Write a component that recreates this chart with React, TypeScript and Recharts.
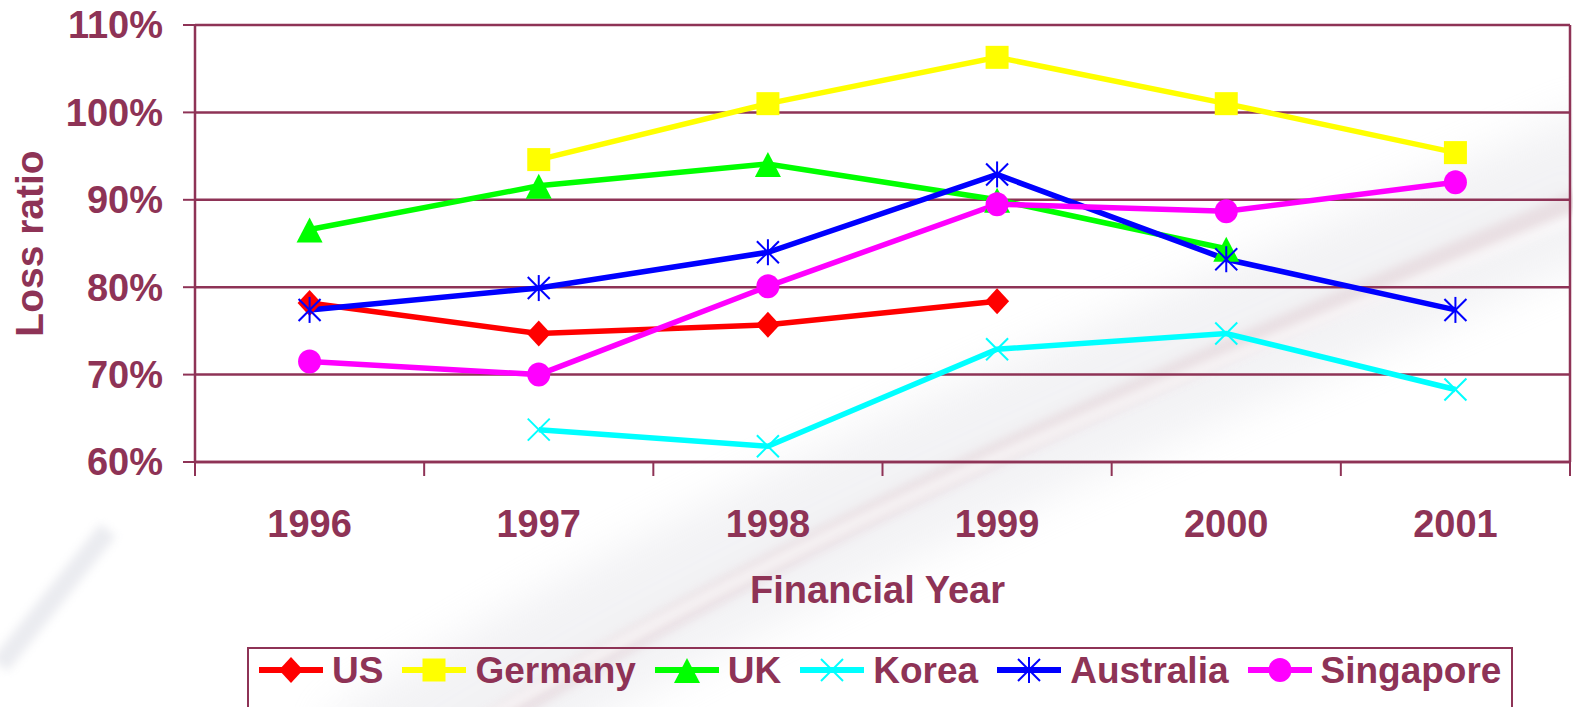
import React from 'react';
import { LineChart, Line, XAxis, YAxis, CartesianGrid } from 'recharts';

const years = ['1996', '1997', '1998', '1999', '2000', '2001'];
const us = [78.2, 74.7, 75.7, 78.4, null, null];
const germany = [null, 94.6, 101.0, 106.3, 101.0, 95.4];
const uk = [86.6, 91.6, 94.1, 90.0, 84.4, null];
const korea = [null, 63.7, 61.8, 72.9, 74.7, 68.3];
const australia = [77.4, 79.9, 84.0, 92.9, 83.2, 77.4];
const singapore = [71.5, 70.0, 80.1, 89.5, 88.7, 92.0];
const yTicks = [60, 70, 80, 90, 100, 110];

const MAROON = '#8e3356';
const FONT = '"Liberation Sans", Arial, sans-serif';
const FS = 38;

const series = [
  { key: 'US', color: '#ff0000', shape: 'diamond' },
  { key: 'Germany', color: '#ffff00', shape: 'square' },
  { key: 'UK', color: '#00ff00', shape: 'triangle' },
  { key: 'Korea', color: '#00ffff', shape: 'x' },
  { key: 'Australia', color: '#0000ff', shape: 'star' },
  { key: 'Singapore', color: '#ff00ff', shape: 'circle' },
];

const data = years.map((year, i) => ({
  year,
  US: us[i],
  Germany: germany[i],
  UK: uk[i],
  Korea: korea[i],
  Australia: australia[i],
  Singapore: singapore[i],
}));

const Marker = ({ cx, cy, shape, color }: any) => {
  switch (shape) {
    case 'diamond':
      return <polygon points={`${cx},${cy - 13} ${cx + 12},${cy} ${cx},${cy + 13} ${cx - 12},${cy}`} fill={color} />;
    case 'square':
      return <rect x={cx - 11.5} y={cy - 11.5} width={23} height={23} fill={color} />;
    case 'triangle':
      return <polygon points={`${cx},${cy - 12} ${cx + 13},${cy + 13} ${cx - 13},${cy + 13}`} fill={color} />;
    case 'x':
      return (
        <g stroke={color} strokeWidth={2}>
          <line x1={cx - 11} y1={cy - 11} x2={cx + 11} y2={cy + 11} />
          <line x1={cx - 11} y1={cy + 11} x2={cx + 11} y2={cy - 11} />
        </g>
      );
    case 'star':
      return (
        <g stroke={color} strokeWidth={2}>
          <line x1={cx - 11} y1={cy - 11} x2={cx + 11} y2={cy + 11} />
          <line x1={cx - 11} y1={cy + 11} x2={cx + 11} y2={cy - 11} />
          <line x1={cx} y1={cy - 13} x2={cx} y2={cy + 13} />
        </g>
      );
    default:
      return <ellipse cx={cx} cy={cy} rx={11.5} ry={12} fill={color} />;
  }
};

const YearTick = (props: any) => {
  const { x, y, payload, index, visibleTicksCount } = props;
  const half = payload && payload.offset > 0 ? payload.offset : 114.6;
  return (
    <g>
      <line x1={x - half} x2={x - half} y1={y} y2={y + 14} stroke={MAROON} strokeWidth={2} />
      {index === visibleTicksCount - 1 && (
        <line x1={x + half} x2={x + half} y1={y} y2={y + 14} stroke={MAROON} strokeWidth={2} />
      )}
      <text x={x} y={y + 75} textAnchor="middle" fill={MAROON} fontSize={FS} fontWeight="bold" fontFamily={FONT}>
        {payload.value}
      </text>
    </g>
  );
};

// faint decorative streaks behind the chart
const Background = () => (
  <svg width={1573} height={707} style={{ position: 'absolute', left: 0, top: 0 }}>
    <defs>
      <filter id="blurWide" x="-20%" y="-20%" width="140%" height="140%">
        <feGaussianBlur stdDeviation={22} />
      </filter>
      <filter id="blurThin" x="-20%" y="-20%" width="140%" height="140%">
        <feGaussianBlur stdDeviation={5} />
      </filter>
    </defs>
    <path d="M 360 780 C 700 560, 1050 420, 1620 170" stroke="#dcdce2" strokeWidth={140} fill="none" opacity={0.35} filter="url(#blurWide)" />
    <path d="M 430 760 C 760 550, 1080 410, 1620 185" stroke="#d4b4bc" strokeWidth={24} fill="none" opacity={0.3} filter="url(#blurThin)" />
    <path d="M 400 770 C 740 560, 1060 420, 1620 200" stroke="#ffffff" strokeWidth={10} fill="none" opacity={0.7} filter="url(#blurThin)" />
    <path d="M 0 665 L 108 530" stroke="#d2d4de" strokeWidth={20} fill="none" opacity={0.45} filter="url(#blurThin)" />
  </svg>
);

const LegendBox = () => (
  <div
    style={{
      position: 'absolute',
      left: 247,
      top: 647,
      width: 1266,
      height: 80,
      border: `2px solid ${MAROON}`,
      boxSizing: 'border-box',
      display: 'flex',
      alignItems: 'center',
      paddingLeft: 10,
      paddingBottom: 34,
      fontFamily: FONT,
    }}
  >
    {series.map((s) => (
      <div key={s.key} style={{ display: 'flex', alignItems: 'center', marginRight: 19 }}>
        <svg width={64} height={32}>
          <line x1={0} x2={64} y1={16} y2={16} stroke={s.color} strokeWidth={6} />
          <Marker cx={32} cy={16} shape={s.shape} color={s.color} />
        </svg>
        <span style={{ fontSize: 37, fontWeight: 'bold', color: MAROON, marginLeft: 9, lineHeight: '37px' }}>
          {s.key}
        </span>
      </div>
    ))}
  </div>
);

export default function App() {
  return (
    <div style={{ position: 'relative', width: 1573, height: 707, overflow: 'hidden', background: '#fff' }}>
      <style>{'body{margin:0}'}</style>
      <Background />
      <div style={{ position: 'absolute', left: 0, top: 0 }}>
        <LineChart width={1573} height={707} data={data} margin={{ top: 25, right: 3, left: 0, bottom: 0 }}>
          <CartesianGrid
            stroke={MAROON}
            strokeWidth={2.5}
            verticalCoordinatesGenerator={({ offset }: any) => [offset.left + offset.width]}
          />
          <XAxis
            dataKey="year"
            scale="band"
            height={245}
            tickSize={0}
            tickMargin={0}
            tickLine={false}
            axisLine={{ stroke: MAROON, strokeWidth: 2.5 }}
            tick={<YearTick />}
            interval={0}
            label={(props: any) => {
              const vb = props.viewBox;
              return (
                <text x={vb.x + vb.width / 2 - 5} y={vb.y + 141} textAnchor="middle" fill={MAROON} fontSize={FS} fontWeight="bold" fontFamily={FONT}>
                  Financial Year
                </text>
              );
            }}
          />
          <YAxis
            width={195}
            domain={[60, 110]}
            ticks={yTicks}
            tickFormatter={(v) => `${v}%`}
            tickSize={12}
            tickMargin={20}
            tickLine={{ stroke: MAROON, strokeWidth: 2 }}
            axisLine={{ stroke: MAROON, strokeWidth: 2.5 }}
            tick={{ fill: MAROON, fontSize: FS, fontWeight: 'bold', fontFamily: FONT }}
            label={(props: any) => {
              const vb = props.viewBox;
              const cy = vb.y + vb.height / 2;
              return (
                <text
                  x={29}
                  y={cy}
                  transform={`rotate(-90, 29, ${cy})`}
                  textAnchor="middle"
                  dominantBaseline="central"
                  fill={MAROON}
                  fontSize={39}
                  fontWeight="bold"
                  fontFamily={FONT}
                >
                  Loss ratio
                </text>
              );
            }}
          />
          {series.map((s) => (
            <Line
              key={s.key}
              dataKey={s.key}
              stroke={s.color}
              strokeWidth={5.5}
              isAnimationActive={false}
              activeDot={false}
              dot={(p: any) =>
                p.cy == null ? <g key={`${s.key}-${p.index}`} /> : (
                  <Marker key={`${s.key}-${p.index}`} cx={p.cx} cy={p.cy} shape={s.shape} color={s.color} />
                )
              }
            />
          ))}
        </LineChart>
      </div>
      <LegendBox />
    </div>
  );
}
